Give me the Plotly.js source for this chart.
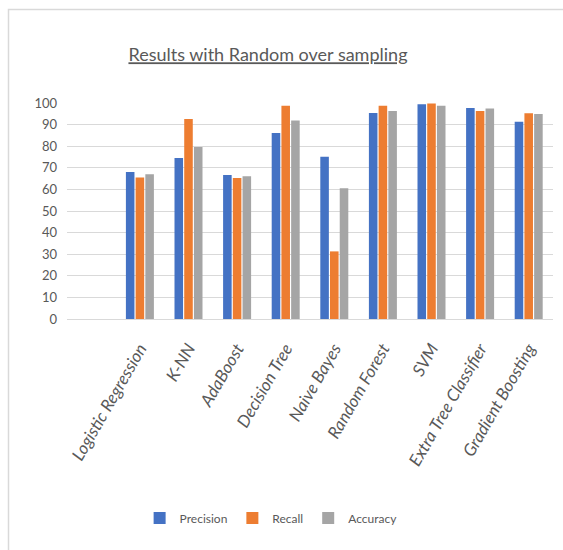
<!DOCTYPE html>
<html>
<head>
<meta charset="utf-8">
<script src="https://cdn.plot.ly/plotly-3.0.1.min.js"></script>
<style>html,body{margin:0;padding:0;background:#fff;}#chart{width:563px;height:550px;}</style>
</head>
<body>
<div id="chart"></div>
<script>
var categories = ["Logistic Regression", "K-NN", "AdaBoost", "Decision Tree", "Naive Bayes", "Random Forest", "SVM", "Extra Tree Classifier", "Gradient Boosting"];
var precision = [68.0, 74.5, 66.7, 86.1, 75.1, 95.4, 99.4, 97.7, 91.3];
var recall    = [65.5, 92.6, 65.3, 98.7, 31.3, 98.7, 99.8, 96.3, 95.2];
var accuracy  = [67.0, 79.6, 66.1, 91.9, 60.5, 96.3, 98.7, 97.5, 94.9];
var seriesNames = ["Precision", "Recall", "Accuracy"];
var yTicks = [0, 10, 20, 30, 40, 50, 60, 70, 80, 90, 100];

var colors = ["#4472C4", "#ED7D31", "#A5A5A5"];
var font = "Lato, sans-serif";
var W = 563, H = 550;
var m = {l: 67, r: 10, t: 103, b: 231};
var pw = W - m.l - m.r, ph = H - m.t - m.b;
function px2x(p){ return (p - m.l) / pw; }
function py2y(p){ return (H - m.b - p) / ph; }

var series = [precision, recall, accuracy];
var data = series.map(function(vals, i){
  return {type: "bar", name: seriesNames[i], x: categories, y: vals,
          marker: {color: colors[i]}, hoverinfo: "skip"};
});

var layout = {
  width: W, height: H,
  margin: m,
  paper_bgcolor: "#fff", plot_bgcolor: "#fff",
  barmode: "group", bargap: 0.4, bargroupgap: 0.12,
  title: {text: "Results with Random over sampling", x: 0.476, xanchor: "center", y: 0.9, yanchor: "middle",
          font: {family: font, size: 18, color: "#595959", lineposition: "under"}},
  xaxis: {type: "category", range: [-1.5, 8.5], showgrid: false, showline: true, linecolor: "#D9D9D9", linewidth: 1,
          ticks: "", tickangle: -60, ticklabelstandoff: 12,
          tickvals: categories, ticktext: categories.map(function(c){ return "<i>" + c + "</i>"; }),
          tickfont: {family: font, size: 17, color: "#595959"}},
  yaxis: {range: [0, 100], tickvals: yTicks, ticktext: yTicks.map(String), showgrid: true, gridcolor: "#D9D9D9", gridwidth: 1,
          zeroline: false, showline: false, ticks: "", ticklabelstandoff: 9,
          tickfont: {family: font, size: 13, color: "#595959"}},
  legend: {orientation: "h", x: 0.42, xanchor: "center", y: py2y(518), yanchor: "middle",
           font: {family: font, size: 12, color: "#595959"}, itemwidth: 30, tracegroupgap: 0},
  shapes: [{type: "rect", xref: "paper", yref: "paper", x0: px2x(8.5), x1: px2x(620), y0: py2y(620), y1: py2y(9.5),
            line: {color: "#D9D9D9", width: 1.5}, layer: "below"}]
};

Plotly.newPlot("chart", data, layout, {displayModeBar: false, staticPlot: true});
</script>
</body>
</html>
